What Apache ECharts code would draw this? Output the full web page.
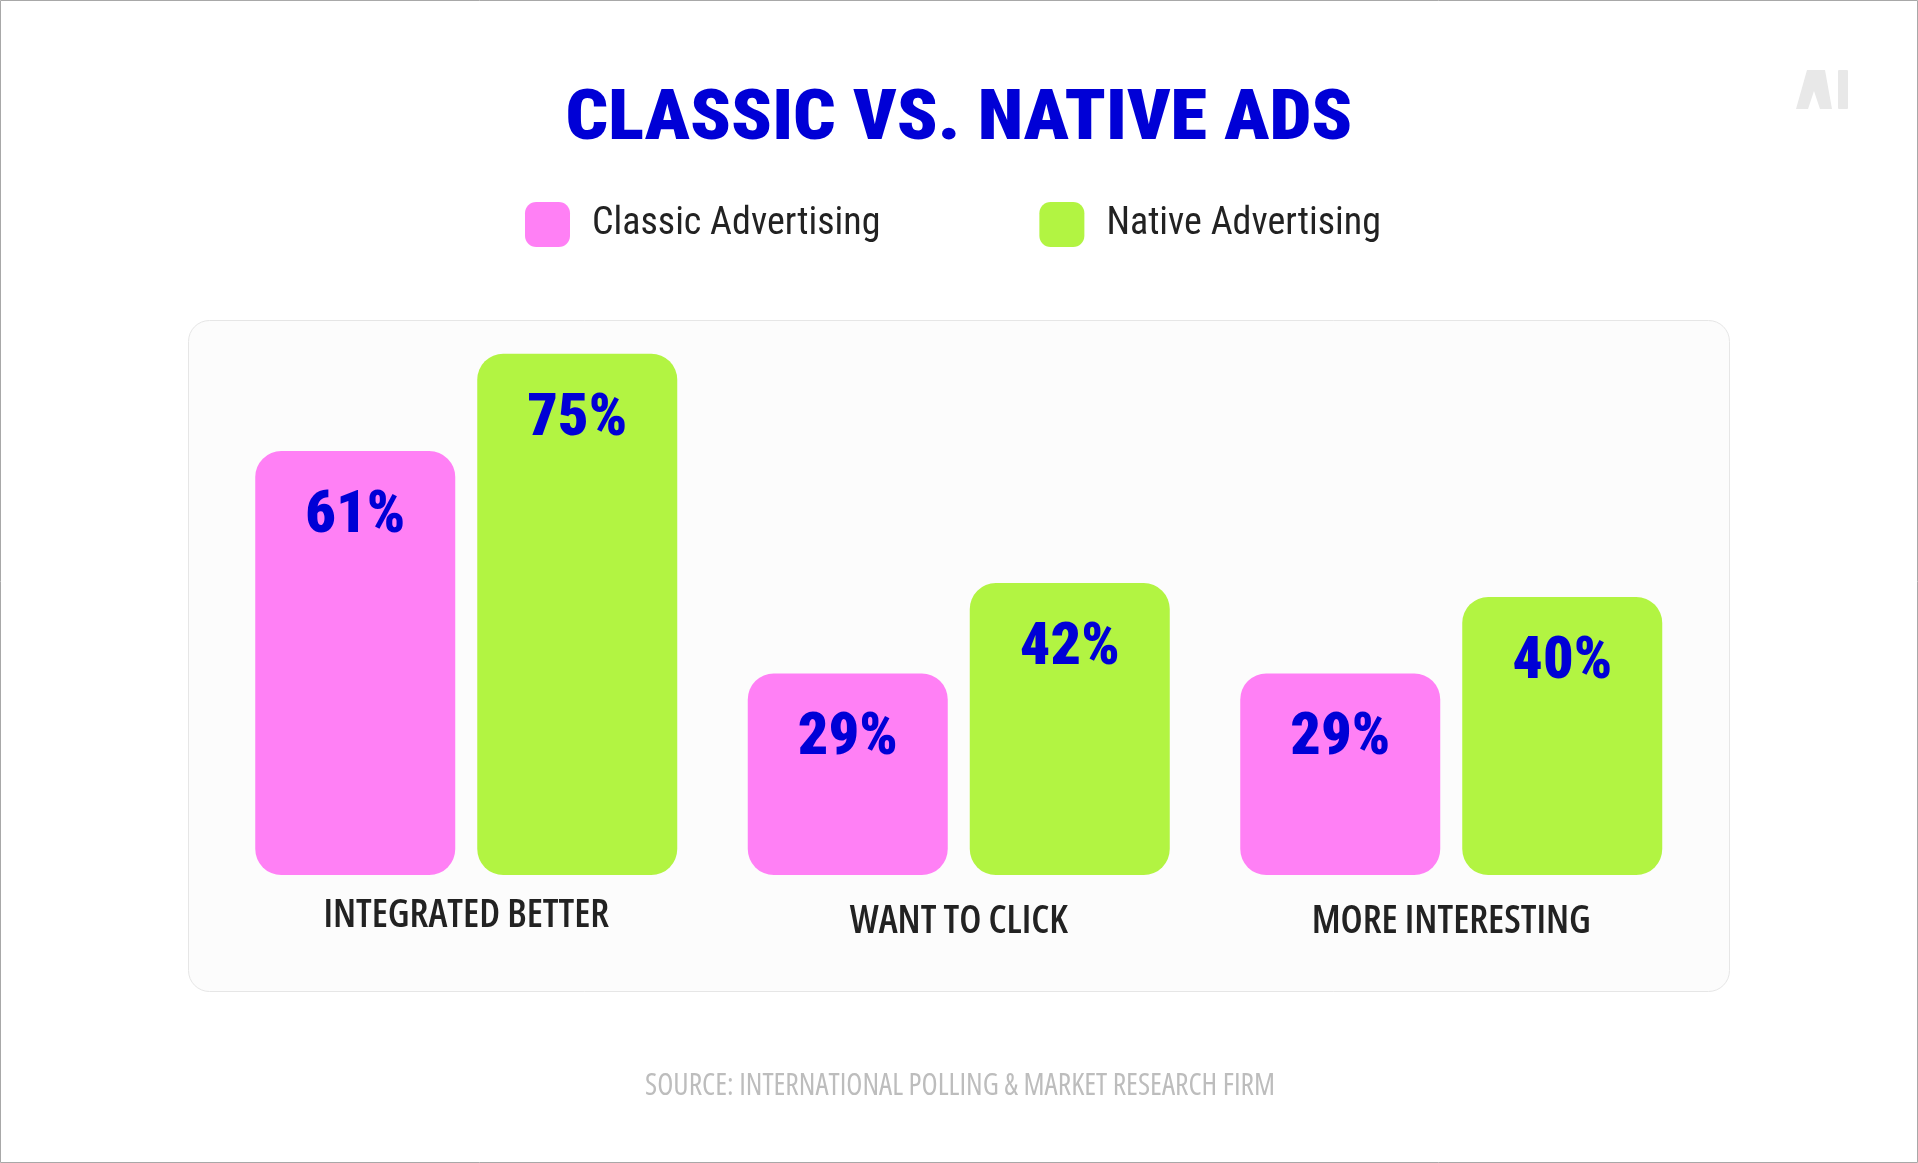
<!DOCTYPE html>
<html>
<head>
<meta charset="utf-8">
<script src="https://cdn.jsdelivr.net/npm/echarts@6/dist/echarts.min.js"></script>
<style>
html,body{margin:0;padding:0;background:#ffffff;}
#chart{width:1918px;height:1163px;}
</style>
</head>
<body>
<div id="chart"></div>
<script>
const titleText = 'CLASSIC VS. NATIVE ADS';
const sourceText = 'SOURCE: INTERNATIONAL POLLING & MARKET RESEARCH FIRM';
const categories = ['INTEGRATED BETTER', 'WANT TO CLICK', 'MORE INTERESTING'];
const seriesNames = ['Classic Advertising', 'Native Advertising'];
const classicValues = [61, 29, 29];
const nativeValues = [75, 42, 40];

const RC = '"Roboto Condensed", Roboto, sans-serif';
const OS = '"Open Sans", sans-serif';
const BLUE = '#0000D6';
const PINK = '#FF80F5';
const GREEN = '#B2F442';

function fitScale(text, font, targetWidth) {
  const ctx = document.createElement('canvas').getContext('2d');
  ctx.font = font;
  const w = ctx.measureText(text).width;
  return w > 0 ? targetWidth / w : 1;
}

const titleScale = fitScale(titleText, '900 70px "Roboto Condensed"', 787);
const sourceScale = fitScale(sourceText, 'condensed 31px "Open Sans"', 630);

const chart = echarts.init(document.getElementById('chart'), null, { renderer: 'canvas' });

const option = {
  animation: false,
  backgroundColor: '#ffffff',
  graphic: [
    { type: 'rect', z: 0, silent: true,
      shape: { x: 0.5, y: 0.5, width: 1917, height: 1162 },
      style: { fill: '#ffffff', stroke: '#a8a8a8', lineWidth: 1 } },
    { type: 'rect', z: 0, silent: true,
      shape: { x: 188.5, y: 320.5, width: 1541, height: 671, r: 21 },
      style: { fill: '#fcfcfc', stroke: '#e6e6e6', lineWidth: 1 } },
    { type: 'text', z: 5, silent: true, x: 959, y: 121, scaleX: titleScale,
      style: { text: titleText, fill: BLUE, font: '900 70px "Roboto Condensed"',
        align: 'center', verticalAlign: 'middle', textAlign: 'center', textVerticalAlign: 'middle' } },
    { type: 'text', z: 5, silent: true, x: 960, y: 1086, scaleX: sourceScale,
      style: { text: sourceText, fill: '#bdbdbd', font: 'condensed 31px "Open Sans"',
        align: 'center', verticalAlign: 'middle', textAlign: 'center', textVerticalAlign: 'middle' } },
    { type: 'polygon', z: 5, silent: true,
      shape: { points: [[1796,109],[1807,70],[1825,70],[1832,109],[1820,109],[1814,91],[1808,109]] },
      style: { fill: '#e8e8e8' } },
    { type: 'rect', z: 5, silent: true,
      shape: { x: 1838, y: 70, width: 10, height: 39, r: 1 },
      style: { fill: '#e8e8e8' } }
  ],
  legend: {
    left: 525,
    top: 202,
    padding: 0,
    itemWidth: 45,
    itemHeight: 45,
    itemGap: 159,
    icon: 'roundRect',
    selectedMode: false,
    data: seriesNames,
    textStyle: { fontFamily: RC, fontSize: 38, color: '#222222', padding: [8, 0, 0, 17] }
  },
  grid: { left: 220, right: 220.5, top: 180, bottom: 288, containLabel: false, outerBoundsMode: 'none' },
  xAxis: {
    type: 'category',
    data: categories,
    axisLine: { show: false },
    axisTick: { show: false },
    splitLine: { show: false },
    axisLabel: {
      interval: 0,
      margin: 25,
      formatter: function (v, i) { return (i === 0 ? '{lift|' : '{base|') + v + '}'; },
      rich: {
        lift: { fontFamily: OS, fontStyle: 'condensed', fontWeight: 600, fontSize: 39, color: '#222222', lineHeight: 32 },
        base: { fontFamily: OS, fontStyle: 'condensed', fontWeight: 600, fontSize: 39, color: '#222222', lineHeight: 44 }
      }
    }
  },
  yAxis: { type: 'value', min: 0, max: 100, show: false },
  series: [
    {
      type: 'bar', name: seriesNames[0], data: classicValues,
      barWidth: 200, barGap: '11%',
      itemStyle: { color: PINK, borderRadius: 26 },
      label: { show: true, position: 'insideTop', distance: 36, formatter: '{c}%',
        fontFamily: RC, fontWeight: 900, fontSize: 60, lineHeight: 60, color: BLUE }
    },
    {
      type: 'bar', name: seriesNames[1], data: nativeValues,
      barWidth: 200, barGap: '11%',
      itemStyle: { color: GREEN, borderRadius: 26 },
      label: { show: true, position: 'insideTop', distance: 36, formatter: '{c}%',
        fontFamily: RC, fontWeight: 900, fontSize: 60, lineHeight: 60, color: BLUE }
    }
  ]
};
chart.setOption(option);
</script>
</body>
</html>
